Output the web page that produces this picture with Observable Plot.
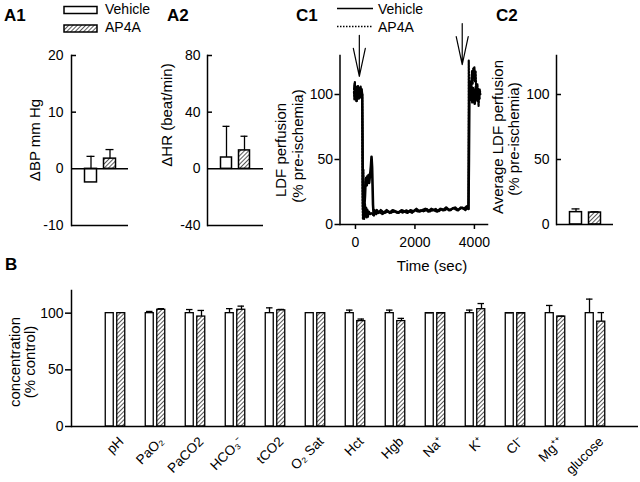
<!DOCTYPE html>
<html><head><meta charset="utf-8">
<script src="https://cdn.jsdelivr.net/npm/d3@7"></script>
<script src="https://cdn.jsdelivr.net/npm/@observablehq/plot@0.6"></script>
<style>
body{margin:0;background:#fff;}
#fig{position:relative;width:640px;height:482px;overflow:hidden;background:#fff;}
#fig svg{position:absolute;left:0;top:0;}
</style></head><body>
<svg width="0" height="0" style="position:absolute">
<defs><pattern id="hatch" patternUnits="userSpaceOnUse" width="3" height="3" patternTransform="rotate(45)">
<rect width="3" height="3" fill="white"/><line x1="0" y1="0" x2="0" y2="3" stroke="black" stroke-width="1.3"/></pattern></defs></svg>
<div id="fig"></div>
<script>
// ---------- data ----------
const groups = ["Vehicle", "AP4A"];
const a1Mean = [-2.4, 1.8];
const a1Sd = [4.6, 1.6];
const a1Ticks = [-10, 0, 10, 20];
const a2Mean = [8, 13];
const a2Sd = [22, 10];
const a2Ticks = [-40, 0, 40, 80];
const c2Mean = [9.5, 9.2];
const c2Sd = [2.5, 0.6];
const c2Ticks = [0, 50, 100];
const bCategories = ["pH","PaO₂","PaCO2","HCO₃⁻","tCO2","O₂ Sat","Hct","Hgb","Na⁺","K⁺","Cl⁻","Mg⁺⁺","glucose"];
const bVehicleMean = [100,100,100,100,100,100,100,100,100,100,100,100,100];
const bVehicleSd   = [0,1.5,3.2,4,4.7,0,2.7,2.7,0.3,2.7,0.3,6.8,12.4];
const bAp4aMean    = [100,103,97,103,102.5,100,93,93,100,103.5,100,97,92.5];
const bAp4aSd      = [0,1,5.4,3.2,0.8,0,1.8,2.4,0.3,5,0.3,0.3,8];
const bTicks = [0, 50, 100];
const c1XTicks = [0, 2000, 4000];
const c1YTicks = [0, 50, 100];
const c1Vehicle = [[-40,104],[-25,108],[-10,97],[5,106],[20,100],[35,95],[50,104],[65,99],[80,106],[95,101],[110,97],[125,104],[140,100],[155,105],[170,103],[185,98],[200,104],[215,101],[230,100],[238,70],[245,30],[255,14],[265,10],[280,6],[300,14],[320,22],[340,33],[360,36],[380,30],[400,37],[420,34],[440,38],[460,32],[480,36],[500,40],[520,45],[540,52],[560,44],[575,30],[590,15],[605,10],[620,7],[640,11],[680,9],[720,11],[780,9],[850,11],[950,9],[1050,11],[1150,9],[1250,11],[1350,10],[1450,9],[1550,11],[1650,10],[1750,9],[1850,11],[1950,10],[2050,12],[2150,10],[2250,11],[2350,12],[2450,10],[2550,12],[2650,11],[2750,10],[2850,12],[2950,11],[3050,13],[3150,11],[3250,12],[3350,13],[3450,11],[3550,13],[3650,12],[3750,14],[3800,12],[3815,50],[3830,98],[3850,104],[3870,96],[3890,108],[3910,100],[3930,94],[3950,105],[3970,99],[3990,103],[4010,93],[4030,101],[4050,106],[4070,98],[4090,102],[4110,95],[4130,104],[4150,100],[4170,97]];
const c1Ap4a = [[-50,102],[-35,96],[-20,110],[-5,99],[10,106],[25,101],[40,95],[55,104],[70,99],[85,107],[100,100],[115,103],[130,97],[145,105],[160,101],[175,106],[190,99],[205,104],[220,102],[228,80],[236,45],[244,12],[252,4],[260,20],[268,42],[276,30],[284,12],[292,4],[305,10],[320,16],[340,6],[360,13],[380,5],[400,12],[420,6],[450,10],[500,8],[550,9],[600,7],[650,9],[700,8],[800,10],[900,8],[1000,9],[1100,10],[1200,9],[1300,10],[1400,9],[1500,10],[1600,9],[1700,11],[1800,10],[1900,9],[2000,11],[2100,10],[2200,11],[2300,10],[2400,12],[2500,10],[2600,11],[2700,12],[2800,10],[2900,12],[3000,11],[3100,12],[3200,11],[3300,13],[3400,11],[3500,12],[3600,13],[3700,11],[3780,13],[3800,12],[3805,60],[3810,126],[3820,105],[3840,98],[3860,110],[3880,104],[3900,112],[3920,118],[3940,108],[3960,120],[3980,113],[4000,121],[4020,110],[4040,118],[4060,104],[4080,96],[4100,108],[4120,101],[4140,91],[4160,99],[4180,104],[4200,100]];
const arrowTimes = [130, 3590];
const arrowTips = [114, 123];

// ---------- layout ----------
const W = 640, H = 482;
const FONT = '"Liberation Sans", Arial, Helvetica, sans-serif';
const fig = document.getElementById("fig");
const baseStyle = {fontFamily: FONT, fontSize: "14px", background: "transparent", overflow: "visible", color: "black"};
function add(svg) { fig.appendChild(svg); return svg; }

function barPanel(mean, sd, o) {
  const data = groups.map((g, i) => ({g, mean: mean[i], sd: sd[i]}));
  const plotW = o.right - o.left;
  return Plot.plot({
    width: W, height: H,
    marginLeft: o.left, marginRight: W - o.right, marginTop: o.top, marginBottom: H - o.bottom,
    style: baseStyle,
    x: {domain: groups, paddingInner: 0, paddingOuter: 0.5, axis: null},
    y: {domain: o.yDomain, axis: null},
    marks: [
      Plot.ruleX(data.filter(d => d.sd > 0), {x: "g", y1: "mean", y2: d => d.mean + d.sd, stroke: "black", strokeWidth: 1.3}),
      Plot.barY(data.filter(d => d.g === "Vehicle"), {x: "g", y: "mean", fill: "white", stroke: "black", strokeWidth: 1.5, insetLeft: 3.5, insetRight: 3.5}),
      Plot.barY(data.filter(d => d.g === "AP4A"), {x: "g", y: "mean", fill: "url(#hatch)", stroke: "black", strokeWidth: 1.5, insetLeft: 3.5, insetRight: 3.5}),
      Plot.tickY(data.filter(d => d.sd > 0), {x: "g", y: d => d.mean + d.sd, stroke: "black", strokeWidth: 1.3, insetLeft: 5.5, insetRight: 5.5}),
      Plot.ruleY(o.lines, {stroke: "black", strokeWidth: 1.5}),
      Plot.ruleY(o.innerTicks, {stroke: "black", strokeWidth: 1.5, insetRight: plotW - 5}),
      Plot.frame({anchor: "left", stroke: "black", strokeWidth: 1.5}),
      Plot.axisY({ticks: o.yTicks, tickSize: 0, tickPadding: o.pad, tickFormat: d => String(d), label: null, fontSize: 14})
    ]
  });
}

add(barPanel(a1Mean, a1Sd, {left: 71, right: 128, top: 55, bottom: 225, yDomain: [-10, 20], lines: [0, -10], innerTicks: [20, 10], yTicks: a1Ticks, pad: 8}));
add(barPanel(a2Mean, a2Sd, {left: 207, right: 263, top: 55, bottom: 225, yDomain: [-40, 80], lines: [0, -40], innerTicks: [80, 40], yTicks: a2Ticks, pad: 7}));
add(barPanel(c2Mean, c2Sd, {left: 556, right: 613, top: 55, bottom: 224, yDomain: [0, 130], lines: [0], innerTicks: [100, 50], yTicks: c2Ticks, pad: 7}));

// C1 time course
const downArrow = {draw(ctx, l) { ctx.moveTo(0, 0); ctx.lineTo(0, -l); ctx.moveTo(-6, 28 - l); ctx.lineTo(0, -l); ctx.lineTo(6, 28 - l); }};
const arrows = arrowTimes.map((t, i) => ({t, v: arrowTips[i]}));
add(Plot.plot({
  width: W, height: H,
  marginLeft: 339.5, marginRight: W - 487, marginTop: 55, marginBottom: H - 224,
  style: baseStyle,
  x: {domain: [-520, 4440], axis: null},
  y: {domain: [0, 130], axis: null},
  marks: [
    Plot.line(c1Vehicle, {x: d => d[0], y: d => d[1], stroke: "black", strokeWidth: 2.6, strokeLinejoin: "round"}),
    Plot.line(c1Ap4a, {x: d => d[0], y: d => d[1], stroke: "black", strokeWidth: 2.2, strokeDasharray: "1.5 1.5"}),
    Plot.vector(arrows, {x: "t", y: "v", length: 41, rotate: 180, anchor: "end", shape: downArrow, stroke: "black", strokeWidth: 1.2}),
    Plot.frame({anchor: "left", stroke: "black", strokeWidth: 1.5}),
    Plot.frame({anchor: "bottom", stroke: "black", strokeWidth: 1.5}),
    Plot.axisY({ticks: c1YTicks, tickSize: 5, tickPadding: 2, strokeWidth: 1.5, tickFormat: d => String(d), label: null, fontSize: 14}),
    Plot.axisX({ticks: c1XTicks, tickSize: 5, tickPadding: 8, strokeWidth: 1.5, tickFormat: d => String(d), label: null, fontSize: 14})
  ]
}));

// B blood chemistry
const bData = [];
bCategories.forEach((c, i) => {
  bData.push({c, g: "Vehicle", mean: bVehicleMean[i], sd: bVehicleSd[i]});
  bData.push({c, g: "AP4A", mean: bAp4aMean[i], sd: bAp4aSd[i]});
});
const bV = bData.filter(d => d.g === "Vehicle"), bA = bData.filter(d => d.g === "AP4A");
const bPlot = add(Plot.plot({
  width: W, height: H,
  marginLeft: 71, marginRight: W - 638, marginTop: 290, marginBottom: H - 426,
  style: baseStyle,
  x: {domain: bCategories, paddingInner: 0, paddingOuter: 0.5, axis: null},
  y: {domain: [0, 120], axis: null},
  marks: [
    Plot.ruleX(bV.filter(d => d.sd > 0), {x: "c", y1: "mean", y2: d => d.mean + d.sd, dx: -6, stroke: "black", strokeWidth: 1.3}),
    Plot.ruleX(bA.filter(d => d.sd > 0), {x: "c", y1: "mean", y2: d => d.mean + d.sd, dx: 6, stroke: "black", strokeWidth: 1.3}),
    Plot.barY(bV, {x: "c", y: "mean", fill: "white", stroke: "black", strokeWidth: 1.3, insetLeft: 10.25, insetRight: 21.75}),
    Plot.barY(bA, {x: "c", y: "mean", fill: "url(#hatch)", stroke: "black", strokeWidth: 1.3, insetLeft: 21.75, insetRight: 10.25}),
    Plot.tickY(bV.filter(d => d.sd > 0), {x: "c", y: d => d.mean + d.sd, stroke: "black", strokeWidth: 1.3, insetLeft: 11, insetRight: 22.5}),
    Plot.tickY(bA.filter(d => d.sd > 0), {x: "c", y: d => d.mean + d.sd, stroke: "black", strokeWidth: 1.3, insetLeft: 22.5, insetRight: 11}),
    Plot.ruleY([0], {stroke: "black", strokeWidth: 1.5}),
    Plot.frame({anchor: "left", stroke: "black", strokeWidth: 1.5}),
    Plot.axisY({ticks: bTicks, tickSize: 6, tickPadding: 2, strokeWidth: 1.5, tickFormat: d => String(d), label: null, fontSize: 14})
  ]
}));

// ---------- annotations ----------
const ov = d3.select(fig).append("svg").attr("width", W).attr("height", H)
  .style("font-family", FONT).style("overflow", "visible");

// rotated category labels for B, positioned with the plot's own x and y scales
const bx = bPlot.scale("x"), by = bPlot.scale("y");
const bBase = by.apply(0);
const c45 = Math.SQRT1_2;
bCategories.forEach(c => {
  const cx = bx.apply(c) + bx.bandwidth / 2 + 6;
  ov.append("g").attr("transform", `matrix(${c45},${-c45},${c45},${c45},${cx},${bBase + 13})`)
    .append("text").attr("text-anchor", "end").attr("dy", "0.35em").attr("font-size", 13.5).text(c);
});

const panelLabels = [["A1", 4, 21], ["A2", 167, 21], ["C1", 296, 21], ["C2", 496, 21], ["B", 5, 270]];
panelLabels.forEach(([t, x, y]) => ov.append("text").attr("x", x).attr("y", y).attr("font-weight", "bold").attr("font-size", 17).text(t));

// legend A
const legendLabels = ["Vehicle", "AP4A"];
legendLabels.forEach((lab, i) => {
  const y = 6.5 + i * 18.5;
  ov.append("rect").attr("x", 64).attr("y", y).attr("width", 33).attr("height", 7)
    .attr("fill", i === 0 ? "white" : "url(#hatch)").attr("stroke", "black").attr("stroke-width", 1.5);
  ov.append("text").attr("x", 105).attr("y", 14 + i * 18).attr("font-size", 14).text(lab);
});
// legend C
legendLabels.forEach((lab, i) => {
  const y = 8.5 + i * 18;
  ov.append("line").attr("x1", 337).attr("x2", 373).attr("y1", y).attr("y2", y)
    .attr("stroke", "black").attr("stroke-width", 1.5).attr("stroke-dasharray", i === 0 ? null : "1.5 1.5");
  ov.append("text").attr("x", 378).attr("y", 14 + i * 18).attr("font-size", 14).text(lab);
});

function vlabel(text, x, y, size) {
  ov.append("text").attr("transform", `translate(${x},${y}) rotate(-90)`).attr("text-anchor", "middle")
    .attr("font-size", size).text(text);
}
vlabel("ΔBP mm Hg", 40, 140, 15);
vlabel("ΔHR (beat/min)", 172, 115, 15);
vlabel("LDF perfusion", 286, 150, 15);
vlabel("(% pre-ischemia)", 303, 146, 15);
vlabel("Average LDF perfusion", 503, 137, 15);
vlabel("(% pre-ischemia)", 519, 139, 15);
vlabel("concentration", 20, 362, 15);
vlabel("(% control)", 35, 362, 15);
ov.append("text").attr("x", 432).attr("y", 271).attr("text-anchor", "middle").attr("font-size", 15).text("Time (sec)");
</script>
</body></html>
